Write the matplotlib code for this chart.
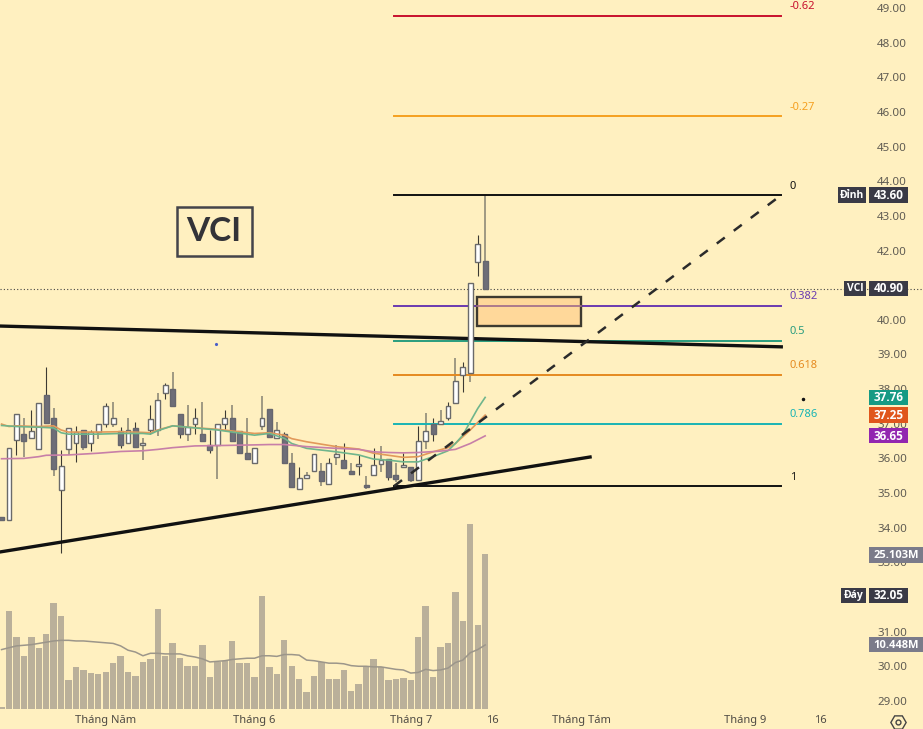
"""VCI daily candles with Fibonacci levels, trend lines and volume."""

import matplotlib

matplotlib.use("Agg")
import matplotlib.pyplot as plt
import numpy as np
from matplotlib.patches import Rectangle
from matplotlib.transforms import blended_transform_factory

plt.rcParams["font.family"] = ["Noto Sans", "DejaVu Sans"]

BG = "#fff0c0"

opens = [34.30, 34.23, 36.53, 36.70, 36.58, 36.28, 37.82, 37.18, 35.09, 36.28, 36.44,
         36.82, 36.44, 36.75, 36.98, 36.98, 36.78, 36.44, 36.87, 36.38, 36.82, 36.82,
         37.88, 37.99, 37.28, 36.69, 36.99, 36.70, 36.39, 36.38, 36.99, 37.18, 36.79,
         36.17, 35.88, 36.93, 37.44, 36.58, 36.69, 35.88, 35.13, 35.42, 35.63, 35.63,
         35.26, 36.03, 35.94, 35.63, 35.78, 35.22, 35.52, 35.85, 35.97, 35.52, 35.74,
         35.74, 35.39, 36.49, 36.98, 36.98, 37.17, 37.59, 38.40, 38.46, 41.66, 41.70]
highs = [34.30, 36.29, 37.28, 37.18, 37.40, 37.59, 38.65, 37.45, 36.25, 36.87, 36.94,
         36.82, 36.82, 36.98, 37.59, 37.64, 36.92, 37.16, 37.06, 36.58, 37.54, 37.88,
         38.17, 38.48, 37.28, 37.54, 37.45, 37.64, 36.82, 36.98, 37.40, 37.54, 36.79,
         37.18, 36.29, 37.80, 37.44, 37.04, 36.77, 36.15, 35.74, 35.62, 36.14, 35.86,
         36.00, 36.40, 36.45, 35.86, 36.09, 35.50, 36.29, 36.36, 35.97, 35.86, 36.16,
         35.74, 36.93, 37.30, 37.18, 37.39, 37.63, 38.90, 38.77, 41.06, 42.45, 43.60]
lows = [34.23, 34.23, 36.10, 36.05, 36.58, 36.28, 37.03, 35.50, 33.26, 36.10, 35.89,
        36.25, 36.20, 36.55, 36.90, 36.90, 36.29, 36.42, 36.33, 35.96, 36.71, 36.65,
        37.71, 37.48, 36.60, 36.51, 36.71, 36.49, 36.17, 35.40, 36.84, 36.51, 36.15,
        35.97, 35.88, 36.82, 36.63, 36.55, 35.88, 35.18, 35.13, 35.40, 35.63, 35.21,
        35.26, 35.81, 35.72, 35.56, 35.52, 35.11, 35.52, 35.62, 35.39, 35.33, 35.74,
        35.32, 35.39, 36.26, 36.51, 36.98, 37.11, 37.59, 37.91, 38.20, 41.25, 40.90]
closes = [34.23, 36.29, 37.28, 36.49, 36.79, 37.59, 37.03, 35.69, 35.79, 36.87, 36.75,
          36.32, 36.75, 36.98, 37.50, 37.18, 36.39, 36.82, 36.33, 36.45, 37.15, 37.69,
          38.11, 37.52, 36.69, 36.92, 37.18, 36.49, 36.23, 36.98, 37.18, 36.51, 36.15,
          35.97, 36.29, 37.18, 36.63, 36.82, 35.88, 35.18, 35.44, 35.53, 36.14, 35.34,
          35.88, 36.13, 35.72, 35.56, 35.85, 35.17, 35.80, 35.94, 35.47, 35.41, 35.80,
          35.38, 36.49, 36.79, 36.69, 37.09, 37.52, 38.23, 38.64, 41.06, 42.18, 40.90]
volumes = [0.4, 15.9, 11.7, 8.7, 11.7, 9.9, 12.3, 17.2, 15.2, 4.7, 6.8, 6.4, 5.9, 5.8, 6.1,
           7.6, 8.7, 6.1, 5.5, 7.7, 8.2, 16.3, 8.6, 10.7, 8.4, 7.0, 7.0, 10.4, 5.2, 7.7,
           7.8, 11.1, 7.6, 7.6, 5.2, 18.3, 6.8, 5.7, 11.3, 7.0, 4.9, 2.8, 5.5, 7.7, 4.9,
           5.0, 6.4, 3.0, 4.1, 7.1, 8.1, 6.8, 4.7, 5.0, 5.1, 4.7, 11.7, 16.8, 5.3, 10.2,
           10.7, 19.0, 14.3, 30.0, 13.7, 25.103]
volume_ma = [9.7, 10.0, 10.3, 10.4, 10.5, 10.7, 10.9, 11.1, 11.2, 11.2, 11.1, 11.1, 11.0,
             10.9, 10.8, 10.7, 10.3, 9.6, 9.3, 8.7, 9.1, 9.1, 9.0, 9.0, 9.0, 8.7, 8.5,
             8.2, 7.7, 7.8, 7.9, 8.1, 8.2, 8.3, 8.3, 8.7, 8.7, 8.6, 8.9, 8.9, 8.8, 8.0,
             7.9, 7.7, 7.5, 7.5, 7.4, 7.1, 7.0, 7.0, 6.9, 6.9, 6.7, 6.5, 6.4, 5.9, 6.0,
             6.5, 6.3, 6.4, 6.7, 7.6, 8.0, 9.2, 9.7, 10.448]

ma_bars = [-1, 0, 1, 4, 6, 7, 8, 12, 15, 18, 19, 20, 22, 24, 28, 33, 35, 37, 38, 40, 44,
           47, 49, 51, 53, 55, 57, 59, 60, 62, 64]
ma_orange = [36.99, 36.92, 36.94, 36.92, 36.94, 36.82, 36.76, 36.76, 36.77, 36.75, 36.74,
             36.82, 36.94, 36.90, 36.84, 36.72, 36.74, 36.67, 36.57, 36.48, 36.34, 36.27,
             36.15, 36.09, 36.03, 36.05, 36.19, 36.31, 36.43, 36.82, 37.25]
ma_green_bars = [-1, 1, 4, 6, 7, 8, 12, 15, 18, 19, 20, 22, 24, 28, 33, 35, 37, 38, 40, 44,
                 47, 49, 51, 53, 55, 57, 59, 60, 61, 62, 63, 64]
ma_green = [36.95, 36.92, 36.90, 36.88, 36.74, 36.70, 36.70, 36.72, 36.72, 36.70, 36.80,
            36.94, 36.90, 36.82, 36.67, 36.72, 36.58, 36.43, 36.29, 36.19, 36.10, 35.98,
            35.95, 35.90, 35.90, 36.05, 36.22, 36.43, 36.67, 37.06, 37.44, 37.76]
ma_pink_bars = [-1, 2, 4, 5, 8, 12, 15, 18, 20, 22, 25, 28, 33, 35, 37, 38, 40, 44, 47, 49,
                51, 53, 55, 58, 60, 62, 64]
ma_pink = [35.99, 36.00, 36.05, 36.09, 36.10, 36.15, 36.20, 36.22, 36.26, 36.31, 36.36,
           36.37, 36.39, 36.40, 36.40, 36.38, 36.34, 36.29, 36.26, 36.19, 36.17, 36.16,
           36.17, 36.21, 36.26, 36.43, 36.65]

fib_labels = ["-0.62", "-0.27", "0", "0.382", "0.5", "0.618", "0.786", "1"]
fib_prices = [48.78, 45.88, 43.60, 40.40, 39.40, 38.41, 37.00, 35.20]
fib_colors = ["#c8102e", "#f5a020", "#111111", "#6a3ab0", "#2a9d7f", "#e58a20", "#18b4b4", "#111111"]
fib_start, fib_end = 51.75, 103.8

# 32.00 and 41.00 sit fully under the tags, so they are left out
price_ticks = [p for p in range(29, 50) if p not in (32, 41)]
date_ticks = [13, 33, 54, 65, 77, 99, 109]
date_labels = ["Tháng Năm", "Tháng 6", "Tháng 7", "16", "Tháng Tám", "Tháng 9", "16"]

upper_trend_x, upper_trend_y = [-1.2, 103.8], [39.82, 39.22]
lower_trend_x, lower_trend_y = [-1.2, 78.1], [33.30, 36.04]

fig = plt.figure(figsize=(9.23, 7.29), dpi=100, facecolor=BG)
ax_vol = fig.add_axes([0, 0, 1, 1])
ax = ax_vol.twinx()
ax.set_zorder(2)
ax_vol.set_zorder(1)
ax.patch.set_visible(False)
ax_vol.set_facecolor(BG)
ax.set_xlim(-1.21, 122.85)
ax.set_ylim(28.19, 49.23)
ax_vol.set_ylim(-3.16, 114.9)
ax_vol.set_yticks([])
for a in (ax, ax_vol):
    for s in a.spines.values():
        s.set_visible(False)

bars = np.arange(-1, 65)
o, h, l, c = map(np.array, (opens, highs, lows, closes))

# volume pane
ax_vol.bar(bars, volumes, width=0.86, color="#bab09a", linewidth=0)
ax_vol.plot(bars, volume_ma, color="#9c968a", lw=1.1)

# candles, wicks on even bars come out softer in the source
even = bars % 2 == 0
ax.vlines(bars[even], l[even], h[even], color="#8f8a78", lw=1.2, zorder=3)
ax.vlines(bars[~even], l[~even], h[~even], color="#3d3a33", lw=0.8, zorder=3)
up = c >= o
ax.bar(bars[up], (c - o)[up], bottom=o[up], width=0.66, color="#ffffff",
       edgecolor="#6a6a6a", linewidth=1.0, zorder=4)
ax.bar(bars[~up], (o - c)[~up], bottom=c[~up], width=0.66, color="#6e6e78",
       edgecolor="#66666e", linewidth=1.0, zorder=4)

ax.plot(ma_bars, ma_orange, color="#e2995a", lw=1.2, zorder=5)
ax.plot(ma_green_bars, ma_green, color="#6fb58c", lw=1.2, zorder=5)
ax.plot(ma_pink_bars, ma_pink, color="#c77fa8", lw=1.2, zorder=5)

# last price line
ax.axhline(40.90, color="#444444", lw=0.8, ls=(0, (1, 2)), zorder=2)

# fib levels
for label, price, color in zip(fib_labels, fib_prices, fib_colors):
    ax.plot([fib_start, fib_end], [price, price], color=color, lw=1.4, zorder=3)
    ax.annotate(label, (fib_end, price), xytext=(6, 6.5), textcoords="offset points",
                color=color, fontsize=8, ha="left", va="center")
ax.plot([fib_start, fib_end], [35.20, 43.60], color="#2b2b2b", lw=1.8,
        ls=(0, (4, 4.5)), zorder=5)

ax.plot(upper_trend_x, upper_trend_y, color="#111111", lw=2.4, zorder=3)
ax.plot(lower_trend_x, lower_trend_y, color="#111111", lw=2.4, zorder=3)

ax.add_patch(Rectangle((62.9, 39.82), 14.0, 0.84, facecolor="#ffd89a", edgecolor="#3d3a30",
                       linewidth=1.7, zorder=5))
ax.plot([62.9, 76.9], [40.40, 40.40], color="#a06a8a", lw=1.2, zorder=6)

ax.plot([27.8], [39.29], marker=".", ms=2.5, color="#4a5ec8", zorder=3)
ax.plot([106.7], [37.72], marker=".", ms=3, color="#111111", zorder=3)

# ticker box
ax.text(0.232, 0.683, "VCI", transform=ax.transAxes, fontsize=24, fontweight="bold",
        family="Lato", color="#333338", ha="center", va="center", zorder=6,
        bbox=dict(boxstyle="square,pad=0.3", facecolor=BG, edgecolor="#44444a", linewidth=1.8))

# price scale
ax.yaxis.tick_right()
ax.set_yticks(price_ticks, [f"{p:.2f}" for p in price_ticks])
ax.tick_params(axis="y", direction="in", length=0, pad=-33, labelsize=8.3, labelcolor="#5f5b52")
ax_vol.set_xlim(ax.get_xlim())
ax_vol.set_xticks(date_ticks, date_labels)
ax_vol.tick_params(axis="x", direction="in", length=0, pad=-10, labelsize=8, labelcolor="#4f4b44")

trans = blended_transform_factory(ax.transAxes, ax.transData)


def price_tag(price, text, color, x0=869, x1=908, size=8.5):
    ax.add_patch(Rectangle((x0 / 923, price - 0.22), (x1 - x0) / 923, 0.44, transform=trans,
                           facecolor=color, edgecolor="none", zorder=7))
    ax.text((x0 + x1) / 2 / 923, price - 0.01, text, transform=trans, color="white", fontsize=size,
            fontweight="bold", family="Open Sans", ha="center", va="center", zorder=8)


price_tag(43.60, "43.60", "#3a3a46")
price_tag(43.60, "Đỉnh", "#3a3a46", 838, 866, 7.5)
price_tag(40.90, "40.90", "#3a3a46")
price_tag(40.90, "VCI", "#3a3a46", 844, 866, 7.5)
price_tag(37.76, "37.76", "#169a84")
price_tag(37.25, "37.25", "#e0561c")
price_tag(36.65, "36.65", "#9226b0")
price_tag(33.21, "25.103M", "#7b7b8a", 869, 923, 8)
price_tag(32.05, "32.05", "#3a3a46")
price_tag(32.05, "Đáy", "#3a3a46", 841, 866, 7.5)
price_tag(30.62, "10.448M", "#7b7b8a", 869, 923, 8)

# settings glyph
ax.plot([898 / 923], [7 / 729], transform=ax.transAxes, marker="H", ms=11, mfc="none",
        mec="#444444", mew=1.0, clip_on=False)
ax.plot([898 / 923], [7 / 729], transform=ax.transAxes, marker="o", ms=3.5, mfc="none",
        mec="#444444", mew=1.0, clip_on=False)

fig.savefig("out.png", dpi=100, facecolor=BG)
plt.close(fig)
